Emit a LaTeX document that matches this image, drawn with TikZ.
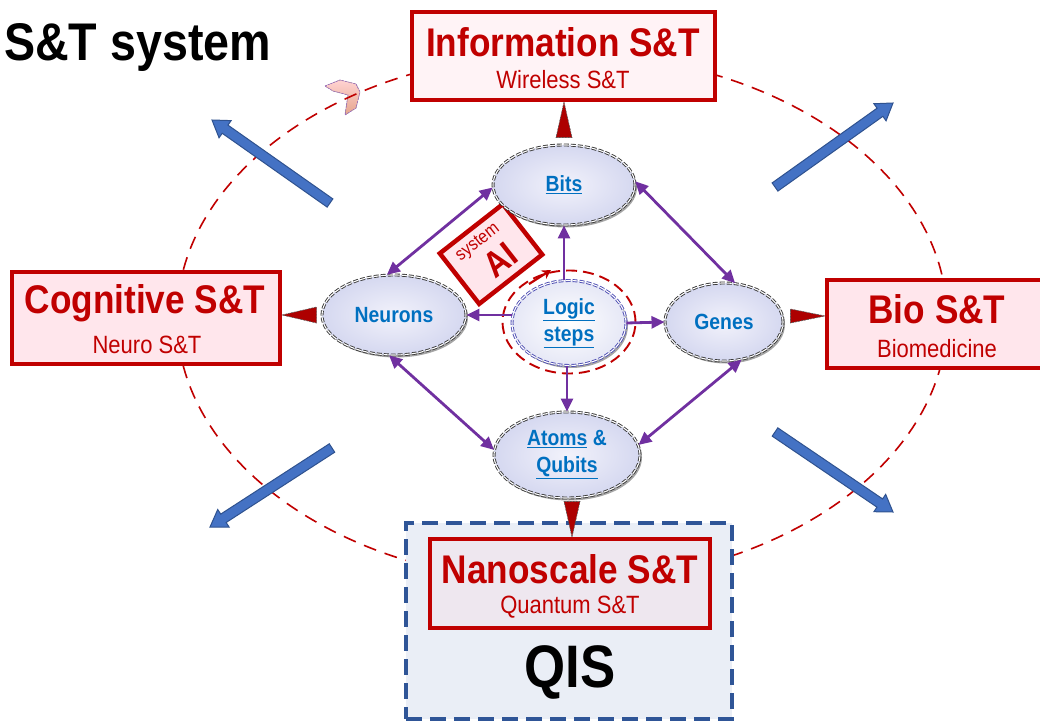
\documentclass[tikz,border=0pt]{standalone}
\usepackage{fontspec}
\setmainfont{Liberation Sans}[FakeStretch=0.88]
\usetikzlibrary{arrows.meta,calc,shapes.geometric,shadows}
\definecolor{dred}{HTML}{C00000}
\definecolor{pinkf}{HTML}{FFE6EC}
\definecolor{pinkl}{HTML}{FFF3F6}
\definecolor{lav}{HTML}{D5D8F0}
\definecolor{lavl}{HTML}{F2F2FB}
\definecolor{purp}{HTML}{7030A0}
\definecolor{lblue}{HTML}{0070C0}
\definecolor{qisf}{HTML}{EAEEF6}
\definecolor{qisb}{HTML}{2F5597}
\definecolor{barf}{HTML}{4472C4}
\definecolor{barb}{HTML}{2F528F}
\definecolor{nanof}{HTML}{EEE7EF}
\newcommand\fsz[2][]{\fontsize{#2}{#2}\selectfont}
\newcommand\bluearrow[2]{%
  \coordinate (#1h) at ($(#2)!16pt!(#1)$);
  \filldraw[bluebar] ($(#1)!5pt!90:(#2)$) -- ($(#1h)!5pt!-90:(#1)$) -- ($(#1h)!10.5pt!-90:(#1)$)
    -- (#2) -- ($(#1h)!10.5pt!90:(#1)$) -- ($(#1h)!5pt!90:(#1)$) -- ($(#1)!5pt!-90:(#2)$) -- cycle;}
\tikzset{
  redbox/.style={draw=dred, line width=4pt, fill=pinkf, rectangle, inner sep=0pt},
  ttl/.style={text=dred, font=\bfseries\fsz{40}, inner sep=0pt},
  subt/.style={text=dred, font=\fsz{25}, inner sep=0pt},
  cell/.style={ellipse, draw=gray!45!black, double=white, double distance=1.1pt, line width=0.9pt,
    dash pattern=on 5pt off 2pt, inner sep=0pt, inner color=lavl, outer color=lav,
    drop shadow={shadow xshift=2pt, shadow yshift=-2.5pt, opacity=0.35, fill=black}},
  lbl/.style={text=lblue, font=\bfseries\fontsize{22}{27}\selectfont, align=center, inner sep=0pt},
  link/.style={draw=purp, line width=2.8pt, -{Triangle[length=13pt,width=12pt]}},
  biglink/.style={draw=purp, line width=2.8pt, {Triangle[length=13pt,width=12pt]}-{Triangle[length=13pt,width=12pt]}},
  redtip/.style={fill=red!68!black, draw=gray!70!black, line width=0.6pt, dash pattern=on 2pt off 1pt},
  bluebar/.style={fill=barf, draw=barb, line width=1pt, line join=miter},
}
\begin{document}
\begin{tikzpicture}[x=1pt,y=-1pt]
\useasboundingbox (0,0) rectangle (1040,727);
% pink chevron
\filldraw[top color=pink!70!white, bottom color=brown!40!pink, draw=purp!70, line width=0.7pt, dash pattern=on 2pt off 1pt]
  (325,86) -- (340,80) -- (356,84) -- (360,92) -- (356,108) -- (345,115) -- (348,95) -- (333,91) -- cycle;
% big dashed ellipse
\draw[dred, line width=1.6pt, dash pattern=on 13pt off 9pt] (562,318) ellipse [x radius=385pt, y radius=265pt];
% blue arrows
\coordinate (tlA) at (330,203); \coordinate (tlB) at (212,120);
\coordinate (trA) at (775,187); \coordinate (trB) at (893,103);
\coordinate (blA) at (332,448); \coordinate (blB) at (210,527);
\coordinate (brA) at (775,432); \coordinate (brB) at (893,512);
\bluearrow{tlA}{tlB}
\bluearrow{trA}{trB}
\bluearrow{blA}{blB}
\bluearrow{brA}{brB}
% QIS box
\node[draw=qisb, fill=qisf, line width=4pt, dash pattern=on 16pt off 8pt, minimum width=326pt, minimum height=196pt, inner sep=0pt] (qis) at (569,621) {};
\node[font=\bfseries\fsz{60}, inner sep=0pt] (qist) at (570,672) {QIS};
% red boxes
\node[redbox, fill=pinkl, minimum width=303pt, minimum height=88pt] (info) at (563.5,56) {};
\node[redbox, minimum width=268pt, minimum height=92pt] (cog) at (146,318) {};
\node[redbox, minimum width=218pt, minimum height=88pt] (bio) at (936,324) {};
\node[redbox, fill=nanof, minimum width=280pt, minimum height=89pt] (nano) at (570,583.5) {};
\node[ttl] (infot) at (563,42) {Information S\&T};
\node[subt] (infos) at (563,80) {Wireless S\&T};
\node[ttl] (cogt) at (145,303) {Cognitive S\&T};
\node[subt] (cogs) at (147,345) {Neuro S\&T};
\node[ttl] (biot) at (937,309) {Bio S\&T};
\node[subt] (bios) at (937,349) {Biomedicine};
\node[ttl] (nanot) at (570,569) {Nanoscale S\&T};
\node[subt] (nanos) at (570,607) {Quantum S\&T};
% title
\node[anchor=base west, font=\bfseries\fsz{53}, inner sep=0pt] (title) at (4,61) {S\&T system};
% AI box
\node[draw=dred, line width=4.5pt, fill=pinkf, rotate=38, minimum width=80pt, minimum height=64pt, inner sep=0pt] (ai) at (491,254) {};
\node[rotate=38, text=dred, font=\fsz{18}, inner sep=0pt] (aisys) at ($(ai.center)+(-13,-11)$) {system};
\node[rotate=38, text=dred, font=\bfseries\fsz{36}, inner sep=0pt] (aiai) at ($(ai.center)+(9,6)$) {AI};
% cells
\node[cell, minimum width=142pt, minimum height=80pt] (bits) at (564,185) {};
\node[cell, minimum width=144pt, minimum height=80pt] (neurons) at (394,315) {};
\node[cell, minimum width=118pt, minimum height=78pt] (genes) at (724,322) {};
\node[cell, minimum width=146pt, minimum height=86pt] (atoms) at (567,455) {};
\node[ellipse, draw=dred, line width=1.9pt, dash pattern=on 11pt off 6pt, minimum width=133pt, minimum height=103pt, inner sep=0pt] (ring) at (569,322) {};
\node[cell, draw=gray!60!blue, inner color=white, outer color=lav!60, minimum width=114pt, minimum height=85pt] (logic) at (569,323) {};
\node[lbl] (bitst) at (bits.center) {\underline{Bits}};
\node[lbl] (neut) at (neurons.center) {Neurons};
\node[lbl] (gent) at (genes.center) {Genes};
\node[lbl] (logt) at (logic.center) {\underline{Logic}\\\underline{steps}};
\node[lbl] (atot) at (atoms.center) {\underline{Atoms} \&\\\underline{Qubits}};
% purple links
\draw[biglink] (neurons.100) -- (bits.182);
\draw[biglink] (bits.3) -- (genes.74);
\draw[biglink] (neurons.263) -- (atoms.176);
\draw[biglink] (genes.295) -- (atoms.8);
\draw[link] (neurons.east -| logic.west) -- (neurons.east);
\draw[link] (logic.east) -- (genes.west);
\draw[link] (bits.south |- logic.north) -- (bits.south);
\draw[link] (atoms.north |- logic.south) -- (atoms.north);
% red arrow near AI
\coordinate (ra1) at (529,284); \coordinate (ra2) at (551,270);
\draw[dred, line width=2.2pt, -{Stealth[length=9pt,width=10pt]}] (ra1) -- (ra2);
% red tips
\filldraw[redtip] (bits.north |- info.south) -- ($(bits.north)+(-8,-7)$) -- ($(bits.north)+(8,-7)$) -- cycle;
\filldraw[redtip] (cog.east |- neurons.west) -- ($(neurons.west)+(-5,-8)$) -- ($(neurons.west)+(-5,8)$) -- cycle;
\filldraw[redtip] ($(bio.west |- genes.east)+(0,-6)$) -- ($(genes.east)+(7,-13)$) -- ($(genes.east)+(7,1)$) -- cycle;
\filldraw[redtip] ($(nano.north)+(2,0)$) -- ($(atoms.south)+(-3,3)$) -- ($(atoms.south)+(13,3)$) -- cycle;
\end{tikzpicture}
\end{document}
